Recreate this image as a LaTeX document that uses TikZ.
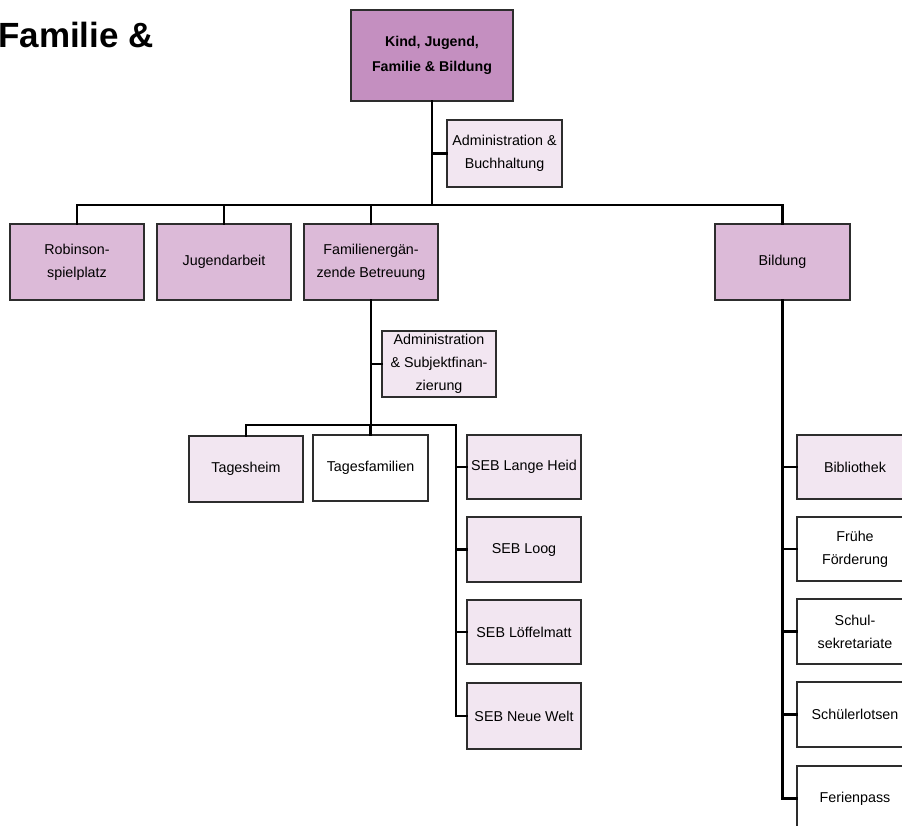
\documentclass[tikz,border=0pt]{standalone}
\usepackage{fontspec}
\setmainfont{Liberation Sans}
\definecolor{topfill}{RGB}{196,143,192}
\definecolor{midfill}{RGB}{220,186,216}
\definecolor{lightfill}{RGB}{242,230,241}
\definecolor{boxline}{RGB}{45,45,45}
\tikzset{
  box/.style={draw=boxline, line width=1.1pt, inner sep=0pt, align=center,
    font=\fontsize{14.3}{23}\selectfont},
  topbox/.style={box, fill=topfill, font=\bfseries\fontsize{14.2}{25}\selectfont},
  midbox/.style={box, fill=midfill},
  lightbox/.style={box, fill=lightfill},
  whitebox/.style={box, fill=white},
  conn/.style={line width=2.7pt, black, line cap=rect},
}
\begin{document}
\begin{tikzpicture}[x=1pt,y=-1pt]
\useasboundingbox (0,0) rectangle (902,825);
\clip (0,0) rectangle (902,825);
% title
\node[anchor=base east, inner sep=0pt, font=\bfseries\fontsize{35}{40}\selectfont] (title) at (154,47) {Familie \&};
% nodes
\node[topbox, minimum width=162, minimum height=91] (top) at (432,55.5) {Kind, Jugend,\\Familie \& Bildung};
\node[lightbox, minimum width=115, minimum height=67] (adm1) at (504.5,153.5) {Administration \&\\Buchhaltung};
\node[midbox, minimum width=134, minimum height=76] (robin) at (77,262) {Robinson-\\spielplatz};
\node[midbox, minimum width=134, minimum height=76] (jugend) at (224,262) {Jugendarbeit};
\node[midbox, minimum width=134, minimum height=76] (famerg) at (371,262) {Familienergän-\\zende Betreuung};
\node[midbox, minimum width=135, minimum height=76] (bildung) at (782.5,262) {Bildung};
\node[lightbox, minimum width=114, minimum height=66] (adm2) at (439,364) {Administration\\\& Subjektfinan-\\zierung};
\node[lightbox, minimum width=114, minimum height=66] (tagesheim) at (246,469) {Tagesheim};
\node[whitebox, minimum width=115, minimum height=66] (tagesfam) at (370.5,468) {Tagesfamilien};
\node[lightbox, minimum width=114, minimum height=64] (seb1) at (524,467) {SEB Lange Heid};
\node[lightbox, minimum width=114, minimum height=65] (seb2) at (524,549.5) {SEB Loog};
\node[lightbox, minimum width=114, minimum height=64] (seb3) at (524,632) {SEB Löffelmatt};
\node[lightbox, minimum width=114, minimum height=66] (seb4) at (524,716) {SEB Neue Welt};
\node[lightbox, minimum width=116, minimum height=64] (bib) at (855,467) {Bibliothek};
\node[whitebox, minimum width=116, minimum height=64] (fruh) at (855,549) {Frühe\\Förderung};
\node[whitebox, minimum width=116, minimum height=65] (schul) at (855,631.5) {Schul-\\sekretariate};
\node[whitebox, minimum width=116, minimum height=65] (lotsen) at (855,714.5) {Schülerlotsen};
\node[whitebox, minimum width=116, minimum height=65] (ferien) at (855,798.5) {Ferienpass};
% junctions
\coordinate (j1) at (432,205);
\coordinate (j2) at (371,425);
\coordinate (s) at (456,425);
% connectors level 1
\draw[conn] (top.south) -- (j1);
\draw[conn] (adm1.west) -- (adm1.west -| top.south);
\draw[conn] (robin.north) -- (robin.north |- j1) -- (bildung.north |- j1) -- (bildung.north);
\draw[conn] (jugend.north) -- (jugend.north |- j1);
\draw[conn] (famerg.north) -- (famerg.north |- j1);
% connectors level 2
\draw[conn] (famerg.south) -- (j2);
\draw[conn] (adm2.west) -- (adm2.west -| famerg.south);
\draw[conn] (tagesheim.north) -- (tagesheim.north |- j2) -- (s) -- (s |- seb4.west) -- (seb4.west);
\draw[conn] (tagesfam.north) -- (tagesfam.north |- j2);
\draw[conn] (seb1.west) -- (seb1.west -| s);
\draw[conn] (seb2.west) -- (seb2.west -| s);
\draw[conn] (seb3.west) -- (seb3.west -| s);
% Bildung column
\draw[conn] (bildung.south) -- (bildung.south |- ferien.west) -- (ferien.west);
\draw[conn] (bib.west) -- (bib.west -| bildung.south);
\draw[conn] (fruh.west) -- (fruh.west -| bildung.south);
\draw[conn] (schul.west) -- (schul.west -| bildung.south);
\draw[conn] (lotsen.west) -- (lotsen.west -| bildung.south);
\end{tikzpicture}
\end{document}
